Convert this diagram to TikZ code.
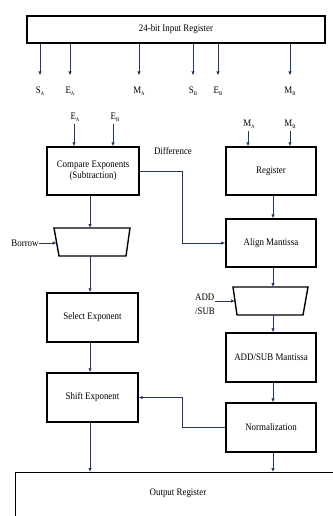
\documentclass[tikz,border=0pt]{standalone}
\usepackage{fontspec}
\setmainfont[FakeStretch=0.89]{Liberation Serif}
\usetikzlibrary{arrows.meta}
\definecolor{navy}{RGB}{31,56,100}
\newcommand{\sbx}[1]{\raisebox{-2.2pt}{\fontsize{5.5}{6}\selectfont #1}}
\begin{document}
\begin{tikzpicture}[x=1pt,y=-1pt,
  box/.style={draw=black, line width=1.4pt, minimum height=48pt, inner sep=1pt, align=center, font=\fontsize{10}{11.5}\selectfont},
  lbl/.style={inner sep=0pt, font=\fontsize{10}{14}\selectfont},
  arr/.style={draw=navy, line width=0.8pt, -{Latex[length=4pt,width=3.5pt]}},
  mux/.style={draw=black, line width=1.4pt}]
\useasboundingbox (0,0) rectangle (332,516);

% input register
\node[box, minimum width=298pt, minimum height=27pt] (inreg) at (176,29.5) {24-bit Input Register};

% first row labels
\node[lbl] (sa) at (40,91) {S\sbx{A}};
\node[lbl] (ea) at (70,91) {E\sbx{A}};
\node[lbl] (ma) at (139,91) {M\sbx{A}};
\node[lbl] (sb) at (193,91) {S\sbx{B}};
\node[lbl] (eb) at (218,91) {E\sbx{B}};
\node[lbl] (mb) at (290,91) {M\sbx{B}};
\foreach \n in {sa,ea,ma,sb,eb,mb}
  \draw[arr, shorten >=11pt] (inreg.south -| \n) -- (\n.north);

% second row labels
\node[lbl] (ea2) at (75,117) {E\sbx{A}};
\node[lbl] (eb2) at (115,117) {E\sbx{B}};
\node[lbl] (ma2) at (249,124) {M\sbx{A}};
\node[lbl] (mb2) at (290,124) {M\sbx{B}};

% boxes
\node[box, minimum width=92pt] (cmp) at (93,171) {Compare Exponents\\(Subtraction)};
\node[box, minimum width=90pt] (reg) at (271,171) {Register};
\node[box, minimum width=90pt] (align) at (271,243) {Align Mantissa};
\node[box, minimum width=91pt, minimum height=49pt] (sel) at (92.5,317.5) {Select Exponent};
\node[box, minimum width=91pt, minimum height=49pt] (shift) at (92.5,397.5) {Shift Exponent};
\node[box, minimum width=90pt, minimum height=49pt] (addm) at (271,357.5) {ADD/SUB Mantissa};
\node[box, minimum width=90pt, minimum height=49pt] (norm) at (271,427.5) {Normalization};
\node[box, minimum width=330pt, minimum height=60pt, anchor=north west] (outreg) at (15,472) {};
\node[lbl] (outlbl) at (178,493) {Output Register};

\node[lbl] (diff) at (173,151) {Difference};
\node[lbl] (borrow) at (25,243) {Borrow};
\node[lbl, align=left] (addsub) at (205,304) {ADD\\/SUB};

% multiplexers
\draw[mux] (54,228) -- (130,228) -- (126,256) -- (59,256) -- cycle;
\coordinate (mux1t) at (92,228);
\coordinate (mux1b) at (92,256);
\coordinate (mux1l) at (56.7,243);
\draw[mux] (233,287) -- (308,287) -- (303,315) -- (237,315) -- cycle;
\coordinate (mux2t) at (271,287);
\coordinate (mux2b) at (271,315);
\coordinate (mux2l) at (235,301);

\coordinate (lx) at (90,0);
\coordinate (rx) at (273,0);
\coordinate (dj) at (182,0);

% connectors
\draw[arr, shorten <=2pt] (ea2.south -| 74,0) -- (cmp.north -| 74,0);
\draw[arr, shorten <=2pt] (eb2.south -| 113,0) -- (cmp.north -| 113,0);
\draw[arr, shorten <=2pt] (ma2.south -| 248,0) -- (reg.north -| 248,0);
\draw[arr, shorten <=2pt] (mb2.south) -- (reg.north -| mb2);

\draw[arr] (cmp.south -| lx) -- (mux1t -| lx);
\draw[arr] (borrow.east) -- (mux1l);
\draw[arr] (mux1b -| lx) -- (sel.north -| lx);
\draw[arr] (sel.south -| lx) -- (shift.north -| lx);
\draw[arr] (shift.south -| lx) -- (outreg.north -| lx);

\draw[arr] (cmp.east) -- (cmp.east -| dj) -- (align.west -| dj) -- (align.west);
\draw[arr] (reg.south -| rx) -- (align.north -| rx);
\draw[arr] (align.south -| rx) -- (mux2t -| rx);
\draw[arr] (addsub.east |- mux2l) -- (mux2l);
\draw[arr] (mux2b -| rx) -- (addm.north -| rx);
\draw[arr] (addm.south -| rx) -- (norm.north -| rx);
\draw[arr] (norm.south -| rx) -- (outreg.north -| rx);
\draw[arr] (norm.west) -- (norm.west -| dj) -- (shift.east -| dj) -- (shift.east);
\end{tikzpicture}
\end{document}
